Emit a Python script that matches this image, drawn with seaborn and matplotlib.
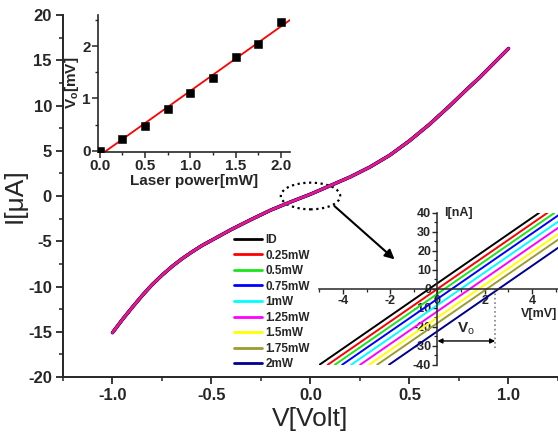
import numpy as np
import pandas as pd
import matplotlib
matplotlib.use("Agg")
import matplotlib.pyplot as plt
from matplotlib.patches import Ellipse
from matplotlib.lines import Line2D
from matplotlib.ticker import MultipleLocator, FormatStrFormatter
import seaborn as sns

# =========================
# DATA
# =========================
series_names = ["ID", "0.25mW", "0.5mW", "0.75mW", "1mW",
                "1.25mW", "1.5mW", "1.75mW", "2mW"]
series_colors = ["#000000", "#ff0000", "#19e619", "#0000ff", "#00ffff",
                 "#ff00ff", "#ffff00", "#9c9c2e", "#00008b"]

# main I-V sweep (all powers overlap at the uA scale)
volt = [-1.0, -0.95, -0.9, -0.85, -0.8, -0.75, -0.7, -0.65, -0.6, -0.55, -0.5,
        -0.4, -0.3, -0.2, -0.1, 0.0, 0.1, 0.2, 0.3, 0.4, 0.5, 0.6, 0.7,
        0.8, 0.85, 0.9, 0.95, 1.0]
current_ua = [-15.1, -13.65, -12.3, -11.0, -9.8, -8.75, -7.8, -6.95, -6.2, -5.5, -4.9,
              -3.7, -2.6, -1.55, -0.65, 0.2, 1.15, 2.1, 3.2, 4.5, 6.1, 7.9, 9.9,
              12.0, 13.0, 14.1, 15.2, 16.3]

# zoomed inset: V[mV] where each line is at -40 nA and +40 nA
inset_v_lo = [-4.99, -4.64, -4.34, -4.03, -3.65, -3.27, -2.89, -2.55, -2.05]
inset_v_hi = [4.31, 4.66, 4.96, 5.27, 5.65, 6.03, 6.41, 6.75, 7.25]
inset_i = [-40, 40]

# open circuit voltage vs laser power
laser_power = [0.0, 0.25, 0.5, 0.75, 1.0, 1.25, 1.5, 1.75, 2.0]
vo_mv = [0.0, 0.22, 0.48, 0.79, 1.10, 1.40, 1.79, 2.05, 2.46]
vo_marker = 2.44

# =========================
# STYLE
# =========================
sns.set_style("ticks")
plt.rcParams["font.family"] = ["Liberation Sans", "DejaVu Sans"]
plt.rcParams["axes.unicode_minus"] = False
plt.rcParams["mathtext.fontset"] = "custom"
plt.rcParams["mathtext.rm"] = "Liberation Sans"
plt.rcParams["mathtext.bf"] = "Liberation Sans:bold"

fig = plt.figure(figsize=(5.58, 4.36), dpi=100)

# =========================
# MAIN AXES
# =========================
ax = fig.add_axes([0.1129, 0.1353, 0.8871, 0.8303])
for name, col in zip(series_names, series_colors):
    sns.lineplot(x=volt, y=current_ua, ax=ax, color=col, lw=2.6 if name == "2mW" else 2.0,
                 sort=False, estimator=None, legend=False)
# visible blend of the stacked traces
sns.lineplot(x=volt, y=current_ua, ax=ax, color="#ec1683", lw=2.0,
             sort=False, estimator=None, legend=False)

ax.set_xlim(-1.25, 1.25)
ax.set_ylim(-20, 20)
ax.xaxis.set_major_locator(MultipleLocator(0.5))
ax.xaxis.set_minor_locator(MultipleLocator(0.25))
ax.yaxis.set_major_locator(MultipleLocator(5))
ax.yaxis.set_minor_locator(MultipleLocator(2.5))
ax.xaxis.set_major_formatter(FormatStrFormatter("%.1f"))
sns.despine(ax=ax)
for s in ["left", "bottom"]:
    ax.spines[s].set_linewidth(1.4)
ax.tick_params(which="major", length=5, width=1.3, labelsize=12, pad=3)
ax.tick_params(which="minor", length=3, width=1.1)
for lab in ax.get_xticklabels() + ax.get_yticklabels():
    lab.set_fontweight("bold")
ax.set_xlabel("V[Volt]", fontsize=19, labelpad=3)
ax.set_ylabel("I[μA]", fontsize=19, labelpad=1)

ax.add_patch(Ellipse((0.0, 0.0), 0.30, 2.95, fill=False, ls=(0, (1, 1.6)),
                     lw=1.6, color="black"))
ax.annotate("", xy=(0.435, -7.2), xytext=(0.11, -0.9),
            arrowprops=dict(arrowstyle="-|>", color="black", lw=1.5,
                            mutation_scale=14))

handles = [Line2D([], [], color=c, lw=2) for c in series_colors]
leg = ax.legend(handles, series_names, loc="upper left",
                bbox_to_anchor=(234 / 558, 1 - 234 / 436),
                bbox_transform=fig.transFigure, frameon=False,
                prop={"weight": "bold", "size": 8.5}, labelspacing=0.3,
                handlelength=2.4, handletextpad=0.25, borderpad=0,
                borderaxespad=0)

# =========================
# INSET: Vo vs LASER POWER
# =========================
ax1 = fig.add_axes([0.1751, 0.6521, 0.3446, 0.3135])
ax1.set_xlim(-0.02, 2.1)
ax1.set_ylim(-0.02, 2.6)
sns.regplot(x=laser_power, y=vo_mv, ax=ax1, ci=None, scatter=False,
            truncate=False, color="red", line_kws=dict(lw=1.3))
sns.scatterplot(x=laser_power, y=vo_mv, ax=ax1, marker="s", s=26,
                color="black", edgecolor="black", zorder=3)
ax1.set_xlim(-0.02, 2.1)
ax1.set_ylim(-0.02, 2.6)
ax1.xaxis.set_major_locator(MultipleLocator(0.5))
ax1.xaxis.set_minor_locator(MultipleLocator(0.25))
ax1.yaxis.set_major_locator(MultipleLocator(1))
ax1.yaxis.set_minor_locator(MultipleLocator(0.5))
ax1.xaxis.set_major_formatter(FormatStrFormatter("%.1f"))
sns.despine(ax=ax1)
for s in ["left", "bottom"]:
    ax1.spines[s].set_linewidth(1.2)
ax1.tick_params(which="major", length=4, width=1.1, labelsize=11, pad=1)
ax1.tick_params(which="minor", length=2.5, width=1.0)
for lab in ax1.get_xticklabels() + ax1.get_yticklabels():
    lab.set_fontweight("bold")
ax1.set_xlabel("Laser power[mW]", fontsize=11, fontweight="bold", labelpad=1)
ax1.set_ylabel(r"$\mathbf{V_o}$[mV]", fontsize=11, fontweight="bold", labelpad=1)

# =========================
# INSET: ZOOM AROUND ORIGIN
# =========================
ax2 = fig.add_axes([0.5722, 0.1635, 0.4278, 0.3486])
ax2.patch.set_alpha(0)
for name, col, v0, v1 in zip(series_names, series_colors, inset_v_lo, inset_v_hi):
    sns.lineplot(x=[v0, v1], y=inset_i, ax=ax2, color=col, lw=1.4,
                 estimator=None, legend=False)
ax2.set_xlim(-5, 5.1)
ax2.set_ylim(-40, 40)
ax2.spines["left"].set_position("zero")
ax2.spines["bottom"].set_position("zero")
ax2.spines["top"].set_visible(False)
ax2.spines["right"].set_visible(False)
for s in ["left", "bottom"]:
    ax2.spines[s].set_linewidth(1.1)
ax2.xaxis.set_major_locator(MultipleLocator(2))
ax2.xaxis.set_minor_locator(MultipleLocator(1))
ax2.yaxis.set_major_locator(MultipleLocator(10))
ax2.yaxis.set_minor_locator(MultipleLocator(5))
ax2.set_xticks([-4, -2, 0, 2, 4])
ax2.tick_params(which="major", length=3.5, width=1.0, labelsize=9, pad=1)
ax2.tick_params(which="minor", length=2, width=0.9)
for lab in ax2.get_xticklabels() + ax2.get_yticklabels():
    lab.set_fontweight("bold")
ax2.text(0.3, 40, "I[nA]", fontsize=9, fontweight="bold", va="center",
         ha="left", clip_on=False)
ax2.text(5.05, -13.5, "V[mV]", fontsize=9, fontweight="bold", va="center",
         ha="right", clip_on=False)

# Vo marker
ax2.plot([vo_marker, vo_marker], [0, -31], ls=":", color="gray", lw=1.2)
ax2.annotate("", xy=(vo_marker, -27.5), xytext=(0, -27.5),
             arrowprops=dict(arrowstyle="<|-|>", color="black", lw=1.0,
                             mutation_scale=7, shrinkA=0, shrinkB=0))
ax2.text(1.2, -21, r"$\mathbf{V}_\mathrm{o}$", fontsize=11, ha="center", va="center")

plt.savefig("out.png", dpi=100)
